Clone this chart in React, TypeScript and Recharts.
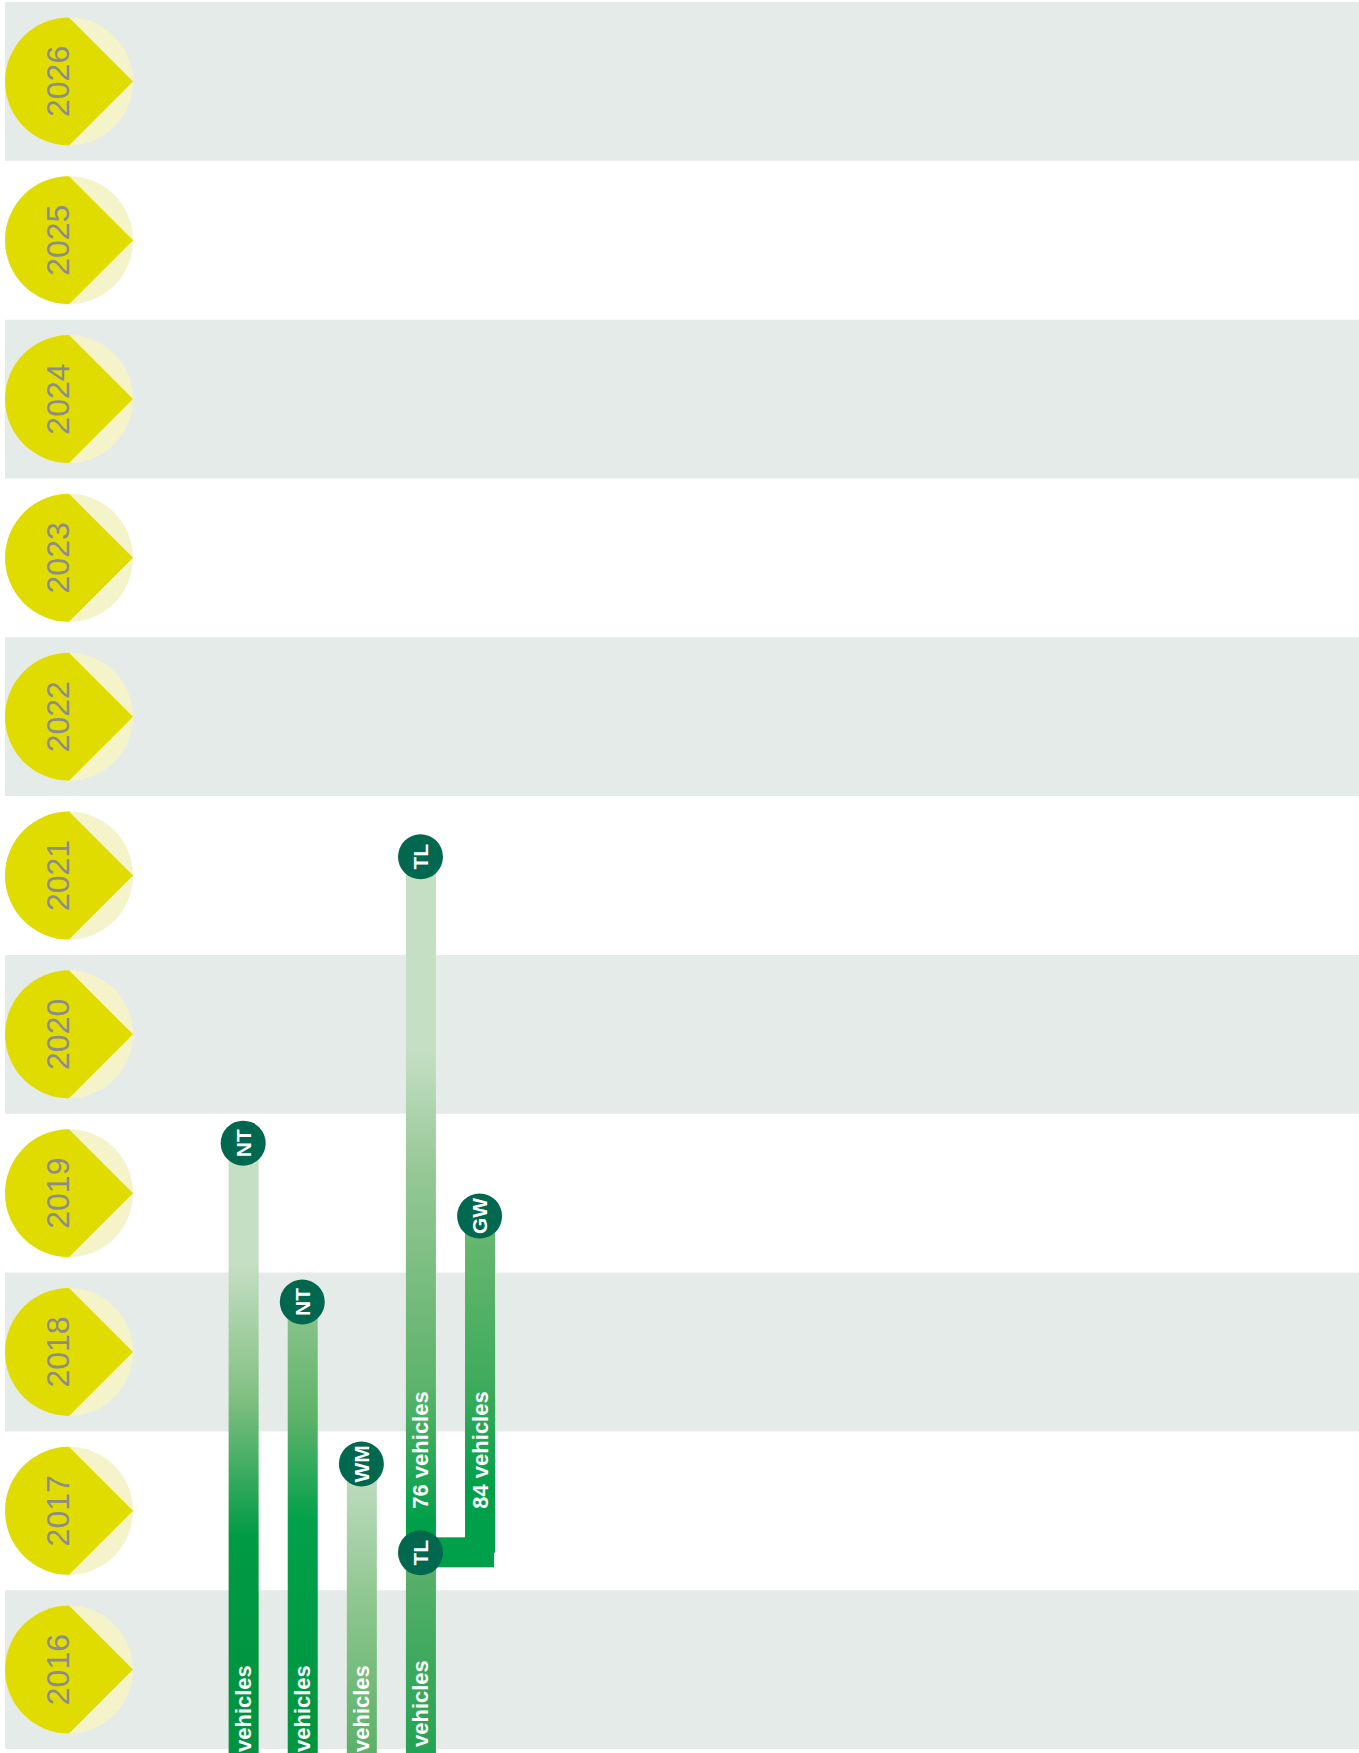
import { ComposedChart, Bar, Scatter, XAxis, YAxis, ReferenceArea } from 'recharts'

const W = 1359
const H = 1753
const FONT = '"Liberation Sans", Arial, Helvetica, sans-serif'

// the timeline runs off the bottom edge, so the bars start below the view
const VIEW_FLOOR = 2015.975
const VIEW_TOP = 2027

const years = [2016, 2017, 2018, 2019, 2020, 2021, 2022, 2023, 2024, 2025, 2026]

// one lane per operator line, left to right
const lanes = [1, 2, 3, 4, 5]
const operators = ['NT', 'NT', 'WM', 'TL', 'GW']
const serviceStart = [VIEW_FLOOR, VIEW_FLOOR, VIEW_FLOOR, VIEW_FLOOR, 2017.236]
const serviceEnd = [2019.815, 2018.815, 2017.795, 2021.618, 2019.356]
const upperLabels = ['', '', '', '76 vehicles', '84 vehicles']
const lowerLabels = ['vehicles', 'vehicles', 'vehicles', 'vehicles', '']

// TL hands over at this point, GW joins from the right
const handoverLane = 4
const handoverYear = 2017.236
const handoverCode = 'TL'
const joinLane = 5
const joinBand = [2017.144, 2017.333]

// lane axis: x range that puts the lanes where they sit in the plot
const X_MIN = -3.03
const X_MAX = 19.88
const BAR = 30

const gradients: Record<string, [number, string][]> = {
  'lane-1': [[0, '#c5dfc4'], [0.196, '#c5dfc4'], [0.42, '#80bf80'], [0.646, '#009a44'], [1, '#00923f']],
  'lane-2': [[0, '#8ec58e'], [0.25, '#5fb36a'], [0.49, '#01a04a'], [1, '#00953f']],
  'lane-3': [[0, '#c3dec3'], [0.47, '#8fc690'], [1, '#5bb169']],
  'lane-4': [
    [0, '#c5dfc5'], [0.216, '#c5dfc5'], [0.353, '#95c795'], [0.59, '#5db36b'],
    [0.74, '#00a04a'], [0.7765, '#00a04a'], [0.7765, '#5eb06b'], [1, '#22a353'],
  ],
  'lane-5': [[0, '#6cb872'], [0.5, '#3eab5c'], [0.81, '#00a04a'], [1, '#00a04a']],
}

const segments = lanes.map((lane, i) => ({
  lane,
  id: `lane-${lane}`,
  code: operators[i],
  start: serviceStart[i],
  end: serviceEnd[i],
  span: [serviceStart[i], serviceEnd[i]],
  upper: upperLabels[i],
  lower: lowerLabels[i],
  handover: lane === handoverLane ? handoverYear : null,
}))

const stops = [
  ...lanes.map((lane, i) => ({ lane, year: serviceEnd[i], code: operators[i] })),
  { lane: handoverLane, year: handoverYear, code: handoverCode },
]

const labelStyle = {
  fill: '#ffffff',
  fontFamily: FONT,
  fontWeight: 700,
  fontSize: 22,
}

function Segment(props: any) {
  const { x, y, width, height, payload } = props
  if (!Number.isFinite(x) || !Number.isFinite(y)) return null
  const cx = x + width / 2
  const bottom = y + height
  // where the handover sits along the bar
  const split = payload.handover != null
    ? y + ((payload.end - payload.handover) / (payload.end - payload.start)) * height
    : bottom
  const upperY = split - 44
  const lowerY = payload.handover != null ? bottom - 6 : bottom - 1
  return (
    <g>
      <rect x={x} y={y} width={width} height={height} fill={`url(#${payload.id})`} />
      {payload.upper && (
        <text transform={`translate(${cx},${upperY}) rotate(-90)`} textAnchor="start" dominantBaseline="central" {...labelStyle}>
          {payload.upper}
        </text>
      )}
      {payload.lower && (
        <text transform={`translate(${cx},${lowerY}) rotate(-90)`} textAnchor="start" dominantBaseline="central" {...labelStyle}>
          {payload.lower}
        </text>
      )}
    </g>
  )
}

function Stop(props: any) {
  const { cx, cy, payload } = props
  if (cx == null || cy == null) return null
  return (
    <g>
      <circle cx={cx} cy={cy} r={22.5} fill="#00684e" />
      <text
        transform={`translate(${cx},${cy}) rotate(-90)`}
        textAnchor="middle"
        dominantBaseline="central"
        fill="#ffffff"
        fontFamily={FONT}
        fontWeight={700}
        fontSize={21}
      >
        {payload.code}
      </text>
    </g>
  )
}

function Link(props: any) {
  const { x, y, width, height } = props
  return <rect x={x} y={y} width={width + BAR / 2 - 0.5} height={height} fill="#00a04a" />
}

function YearBadge(props: any) {
  const { x, y, payload } = props
  const r = 64
  const cx = x + r
  const cy = y
  const year = Math.floor(payload.value)
  return (
    <g>
      <circle cx={cx} cy={cy} r={r} fill="#f5f3c9" />
      <path d={`M${cx},${cy - r} A${r},${r} 0 0 0 ${cx},${cy + r} L${cx + r},${cy} Z`} fill="#e0dc00" />
      <text
        transform={`translate(${cx - 11},${cy}) rotate(-90)`}
        textAnchor="middle"
        dominantBaseline="central"
        fill="#8c8c8c"
        fontFamily={FONT}
        fontSize={32}
      >
        {year}
      </text>
    </g>
  )
}

export default function App() {
  return (
    <div style={{ position: 'absolute', left: 0, top: 0, width: W, height: H, background: '#fff' }}>
      <ComposedChart
        width={W}
        height={H}
        data={segments}
        margin={{ top: 2, right: 0, bottom: 0, left: 0 }}
      >
        <defs>
          {Object.entries(gradients).map(([id, list]) => (
            <linearGradient key={id} id={id} x1="0" y1="0" x2="0" y2="1">
              {list.map(([offset, color], k) => (
                <stop key={k} offset={offset} stopColor={color} />
              ))}
            </linearGradient>
          ))}
        </defs>
        <XAxis xAxisId="lane" dataKey="lane" type="number" domain={[X_MIN, X_MAX]} hide />
        <YAxis
          type="number"
          domain={[VIEW_FLOOR, VIEW_TOP]}
          ticks={years.map((yr) => yr + 0.5)}
          interval={0}
          width={5}
          tickSize={0}
          tickMargin={0}
          axisLine={false}
          tickLine={false}
          tick={(p: any) => <YearBadge {...p} />}
        />
        {years
          .filter((yr) => yr % 2 === 0)
          .map((yr) => (
            <ReferenceArea
              key={yr}
              xAxisId="lane"
              y1={yr}
              y2={yr + 1}
              fill="#e5ebe9"
              fillOpacity={1}
              stroke="none"
            />
          ))}
        <ReferenceArea
          xAxisId="lane"
          x1={handoverLane}
          x2={joinLane}
          y1={joinBand[0]}
          y2={joinBand[1]}
          shape={(p: any) => <Link {...p} />}
        />
        <Bar
          xAxisId="lane"
          dataKey="span"
          barSize={BAR}
          shape={(p: any) => <Segment {...p} />}
          isAnimationActive={false}
        />
        <Scatter
          xAxisId="lane"
          data={stops}
          dataKey="year"
          shape={(p: any) => <Stop {...p} />}
          isAnimationActive={false}
        />
      </ComposedChart>
    </div>
  )
}
